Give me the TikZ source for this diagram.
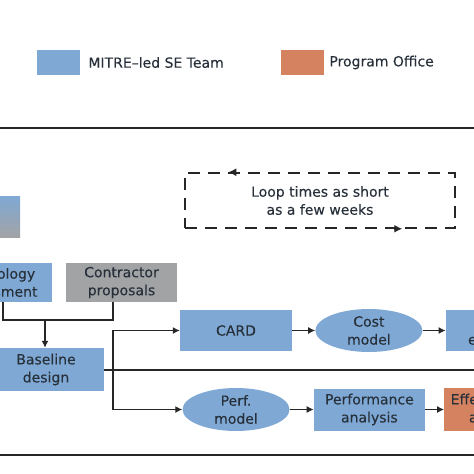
\documentclass[tikz,border=0pt]{standalone}
\usepackage{fontspec}
\setmainfont{DejaVu Sans}[FakeBold=0.2]
\usepackage{xcolor}
\usetikzlibrary{shapes.geometric, arrows.meta, positioning, calc}
\definecolor{LP_BLUE}{HTML}{7FA9D4}
\definecolor{LP_ORANGE}{HTML}{D4825F}
\definecolor{LP_GRAY}{HTML}{A2A3A5}
\definecolor{LP_TEXT}{HTML}{27303A}
\definecolor{LP_LINE}{HTML}{262626}
\tikzset{
  blk/.style={
    rectangle, inner sep=0pt,
    minimum width=112pt, minimum height=41pt,
    text centered, align=center,
    fill=LP_BLUE, text=LP_TEXT, font=\fontsize{14}{18}\selectfont},
  ell/.style={
    ellipse, inner sep=-1pt,
    minimum width=107pt, minimum height=43pt,
    text centered, align=center,
    fill=LP_BLUE, text=LP_TEXT, font=\fontsize{14}{18}\selectfont},
  loopbox/.style={
    rectangle, minimum width=270pt, minimum height=55pt,
    text centered, align=center,
    draw=LP_LINE, line width=1.5pt, dash pattern=on 12pt off 8pt,
    text=LP_TEXT, font=\fontsize{14}{18}\selectfont},
  keybox/.style={rectangle, minimum width=43pt, minimum height=25pt, inner sep=0pt},
  keytxt/.style={inner sep=0pt, text=LP_TEXT, font=\fontsize{14}{18}\selectfont},
  ln/.style={line width=1.3pt, draw=LP_LINE},
  arr/.style={-{Latex[length=7pt,width=7pt]}, line width=1.3pt, draw=LP_LINE},
  looptip/.style={-{Latex[length=8pt,width=8pt]}, line width=1.5pt, draw=LP_LINE},
  frame/.style={line width=2pt, draw=LP_LINE},
}
\begin{document}
\begin{tikzpicture}[x=1pt, y=-1pt, node distance=23pt]
  \useasboundingbox (0,0) rectangle (474,474);
  \clip (0,0) rectangle (474,474);

  % Legend
  \node[keybox, fill=LP_BLUE] (keyse) at (58.5,62.5) {};
  \node[keytxt, right=8pt of keyse] (keysetxt) {MITRE--led SE Team};
  \node[keybox, fill=LP_ORANGE] (keypo) at (302.5,62.5) {};
  \node[keytxt, right=5pt of keypo] (keypotxt) {Program Office};

  \draw[frame] (0,128) -- (474,128);
  \draw[frame] (0,455) -- (474,455);

  \node[blk, top color=LP_BLUE, bottom color=LP_GRAY, minimum width=60pt] (req) at (-10,216.5) {};

  \node[loopbox] (loop) at (320,200.5) {Loop times as short\\as a few weeks};
  \draw[looptip] ($(loop.north west)+(52,0)$) -- ++(-8,0);
  \draw[looptip] ($(loop.south west)+(210,0)$) -- ++(8,0);

  \node[blk, minimum height=39pt] (tech) at (-4,282.5) {Technology\\assessment};
  \node[blk, fill=LP_GRAY, minimum width=111pt, minimum height=39pt] (contr) at (121.5,282.5)
    {Contractor\\proposals};
  \node[blk, minimum width=116pt, minimum height=43pt] (base) at (46,369.5) {Baseline\\design};

  % Cost branch
  \node[blk] (card) at (236,330.5) {CARD};
  \node[ell, right=of card] (costm) {Cost\\model};
  \node[blk, right=of costm, minimum width=106pt] (est) {Cost\\estimate};

  % Performance branch
  \node[ell] (perfm) at (236,409.5) {Perf.\\model};
  \node[blk, right=24pt of perfm, minimum width=111pt, minimum height=42pt] (perfa)
    {Performance\\analysis};
  \node[blk, fill=LP_ORANGE, right=19pt of perfa, minimum width=106pt, minimum height=43pt] (eff)
    {Effectiveness\\analysis};

  \coordinate (merge) at (45,320);
  \coordinate (split) at (113,369.5);
  \coordinate (rowend) at (474,369.5);

  \draw[ln] ($(tech.south)+(7,0)$) |- (merge);
  \draw[ln] ($(contr.south)+(-8.5,0)$) |- (merge);
  \draw[arr] (merge) -- (merge |- base.north);
  \draw[frame] (base.east) -- (rowend);
  \draw[arr] (split) |- (card);
  \draw[arr] (split) |- (perfm);
  \draw[arr] (card)  -- (costm);
  \draw[arr] (costm) -- (est);
  \draw[arr] (perfm) -- (perfa);
  \draw[arr] (perfa) -- (eff);

\end{tikzpicture}
\end{document}
